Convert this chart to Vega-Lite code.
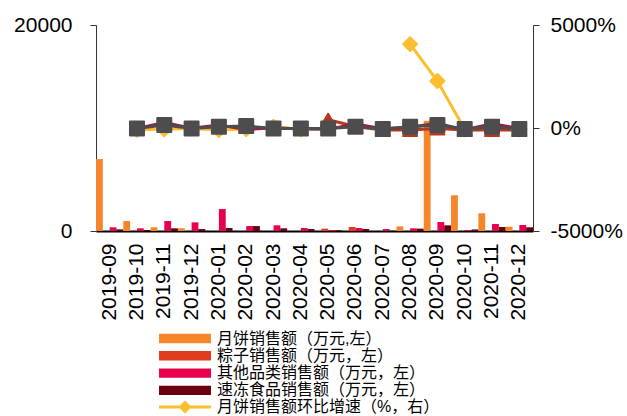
{
  "$schema": "https://vega.github.io/schema/vega-lite/v6.json",
  "autosize": "none",
  "width": 437,
  "height": 206,
  "padding": {"left": 96, "top": 25, "right": 94, "bottom": 185},
  "background": "white",
  "config": {
    "view": {"stroke": null},
    "font": "Liberation Sans",
    "axis": {"grid": false, "labelFont": "Liberation Sans", "labelFontSize": 21, "labelColor": "#000", "domainColor": "#333", "tickColor": "#333", "title": null},
    "legend": {"labelFont": "Liberation Sans, Noto Sans CJK SC", "labelFontSize": 16, "labelColor": "#000", "labelLimit": 400}
  },
  "datasets": {
    "bars": [
      {"month": "2019-09", "cat": "月饼销售额（万元,左）", "sales": 6980},
      {"month": "2019-09", "cat": "粽子销售额（万元，左）", "sales": 0},
      {"month": "2019-09", "cat": "其他品类销售额（万元，左）", "sales": 360},
      {"month": "2019-09", "cat": "速冻食品销售额（万元，左）", "sales": 160},
      {"month": "2019-10", "cat": "月饼销售额（万元,左）", "sales": 970},
      {"month": "2019-10", "cat": "粽子销售额（万元，左）", "sales": 0},
      {"month": "2019-10", "cat": "其他品类销售额（万元，左）", "sales": 260},
      {"month": "2019-10", "cat": "速冻食品销售额（万元，左）", "sales": 100},
      {"month": "2019-11", "cat": "月饼销售额（万元,左）", "sales": 360},
      {"month": "2019-11", "cat": "粽子销售额（万元，左）", "sales": 0},
      {"month": "2019-11", "cat": "其他品类销售额（万元，左）", "sales": 970},
      {"month": "2019-11", "cat": "速冻食品销售额（万元，左）", "sales": 260},
      {"month": "2019-12", "cat": "月饼销售额（万元,左）", "sales": 260},
      {"month": "2019-12", "cat": "粽子销售额（万元，左）", "sales": 0},
      {"month": "2019-12", "cat": "其他品类销售额（万元，左）", "sales": 840},
      {"month": "2019-12", "cat": "速冻食品销售额（万元，左）", "sales": 190},
      {"month": "2020-01", "cat": "月饼销售额（万元,左）", "sales": 0},
      {"month": "2020-01", "cat": "粽子销售额（万元，左）", "sales": 0},
      {"month": "2020-01", "cat": "其他品类销售额（万元，左）", "sales": 2130},
      {"month": "2020-01", "cat": "速冻食品销售额（万元，左）", "sales": 290},
      {"month": "2020-02", "cat": "月饼销售额（万元,左）", "sales": 0},
      {"month": "2020-02", "cat": "粽子销售额（万元，左）", "sales": 0},
      {"month": "2020-02", "cat": "其他品类销售额（万元，左）", "sales": 480},
      {"month": "2020-02", "cat": "速冻食品销售额（万元，左）", "sales": 480},
      {"month": "2020-03", "cat": "月饼销售额（万元,左）", "sales": 0},
      {"month": "2020-03", "cat": "粽子销售额（万元，左）", "sales": 0},
      {"month": "2020-03", "cat": "其他品类销售额（万元，左）", "sales": 550},
      {"month": "2020-03", "cat": "速冻食品销售额（万元，左）", "sales": 260},
      {"month": "2020-04", "cat": "月饼销售额（万元,左）", "sales": 0},
      {"month": "2020-04", "cat": "粽子销售额（万元，左）", "sales": 0},
      {"month": "2020-04", "cat": "其他品类销售额（万元，左）", "sales": 290},
      {"month": "2020-04", "cat": "速冻食品销售额（万元，左）", "sales": 190},
      {"month": "2020-05", "cat": "月饼销售额（万元,左）", "sales": 0},
      {"month": "2020-05", "cat": "粽子销售额（万元，左）", "sales": 230},
      {"month": "2020-05", "cat": "其他品类销售额（万元，左）", "sales": 100},
      {"month": "2020-05", "cat": "速冻食品销售额（万元，左）", "sales": 80},
      {"month": "2020-06", "cat": "月饼销售额（万元,左）", "sales": 0},
      {"month": "2020-06", "cat": "粽子销售额（万元，左）", "sales": 390},
      {"month": "2020-06", "cat": "其他品类销售额（万元，左）", "sales": 290},
      {"month": "2020-06", "cat": "速冻食品销售额（万元，左）", "sales": 190},
      {"month": "2020-07", "cat": "月饼销售额（万元,左）", "sales": 0},
      {"month": "2020-07", "cat": "粽子销售额（万元，左）", "sales": 0},
      {"month": "2020-07", "cat": "其他品类销售额（万元，左）", "sales": 190},
      {"month": "2020-07", "cat": "速冻食品销售额（万元，左）", "sales": 30},
      {"month": "2020-08", "cat": "月饼销售额（万元,左）", "sales": 450},
      {"month": "2020-08", "cat": "粽子销售额（万元，左）", "sales": 0},
      {"month": "2020-08", "cat": "其他品类销售额（万元，左）", "sales": 260},
      {"month": "2020-08", "cat": "速冻食品销售额（万元，左）", "sales": 230},
      {"month": "2020-09", "cat": "月饼销售额（万元,左）", "sales": 10700},
      {"month": "2020-09", "cat": "粽子销售额（万元，左）", "sales": 0},
      {"month": "2020-09", "cat": "其他品类销售额（万元，左）", "sales": 870},
      {"month": "2020-09", "cat": "速冻食品销售额（万元，左）", "sales": 550},
      {"month": "2020-10", "cat": "月饼销售额（万元,左）", "sales": 3470},
      {"month": "2020-10", "cat": "粽子销售额（万元，左）", "sales": 0},
      {"month": "2020-10", "cat": "其他品类销售额（万元，左）", "sales": 100},
      {"month": "2020-10", "cat": "速冻食品销售额（万元，左）", "sales": 150},
      {"month": "2020-11", "cat": "月饼销售额（万元,左）", "sales": 1720},
      {"month": "2020-11", "cat": "粽子销售额（万元，左）", "sales": 0},
      {"month": "2020-11", "cat": "其他品类销售额（万元，左）", "sales": 680},
      {"month": "2020-11", "cat": "速冻食品销售额（万元，左）", "sales": 390},
      {"month": "2020-12", "cat": "月饼销售额（万元,左）", "sales": 420},
      {"month": "2020-12", "cat": "粽子销售额（万元，左）", "sales": 0},
      {"month": "2020-12", "cat": "其他品类销售额（万元，左）", "sales": 580},
      {"month": "2020-12", "cat": "速冻食品销售额（万元，左）", "sales": 360}
    ],
    "lines": [
      {"month": "2019-10", "metric": "月饼销售额环比增速（%，右）", "growth": -90, "seg": 1},
      {"month": "2019-11", "metric": "月饼销售额环比增速（%，右）", "growth": -60, "seg": 1},
      {"month": "2019-12", "metric": "月饼销售额环比增速（%，右）", "growth": -30, "seg": 1},
      {"month": "2020-01", "metric": "月饼销售额环比增速（%，右）", "growth": -100, "seg": 1},
      {"month": "2020-02", "metric": "月饼销售额环比增速（%，右）", "growth": -50, "seg": 1},
      {"month": "2020-03", "metric": "月饼销售额环比增速（%，右）", "growth": 60, "seg": 1},
      {"month": "2020-04", "metric": "月饼销售额环比增速（%，右）", "growth": -60, "seg": 1},
      {"month": "2020-08", "metric": "月饼销售额环比增速（%，右）", "growth": 4070, "seg": 2},
      {"month": "2020-09", "metric": "月饼销售额环比增速（%，右）", "growth": 2280, "seg": 2},
      {"month": "2020-10", "metric": "月饼销售额环比增速（%，右）", "growth": -70, "seg": 2},
      {"month": "2020-11", "metric": "月饼销售额环比增速（%，右）", "growth": -50, "seg": 2},
      {"month": "2020-12", "metric": "月饼销售额环比增速（%，右）", "growth": -75, "seg": 2},
      {"month": "2020-05", "metric": "粽子销售额环比增速（%，右）", "growth": 400, "seg": 1},
      {"month": "2020-06", "metric": "粽子销售额环比增速（%，右）", "growth": 70, "seg": 1},
      {"month": "2020-07", "metric": "粽子销售额环比增速（%，右）", "growth": -100, "seg": 1},
      {"month": "2020-08", "metric": "粽子销售额环比增速（%，右）", "growth": -100, "seg": 1},
      {"month": "2020-09", "metric": "粽子销售额环比增速（%，右）", "growth": -20, "seg": 1},
      {"month": "2020-10", "metric": "粽子销售额环比增速（%，右）", "growth": -100, "seg": 1},
      {"month": "2020-11", "metric": "粽子销售额环比增速（%，右）", "growth": -100, "seg": 1},
      {"month": "2020-12", "metric": "粽子销售额环比增速（%，右）", "growth": -100, "seg": 1},
      {"month": "2019-10", "metric": "其他品类销售额环比增速（%，右）", "growth": -28, "seg": 1},
      {"month": "2019-11", "metric": "其他品类销售额环比增速（%，右）", "growth": 270, "seg": 1},
      {"month": "2019-12", "metric": "其他品类销售额环比增速（%，右）", "growth": -13, "seg": 1},
      {"month": "2020-01", "metric": "其他品类销售额环比增速（%，右）", "growth": 150, "seg": 1},
      {"month": "2020-02", "metric": "其他品类销售额环比增速（%，右）", "growth": -77, "seg": 1},
      {"month": "2020-03", "metric": "其他品类销售额环比增速（%，右）", "growth": 15, "seg": 1},
      {"month": "2020-04", "metric": "其他品类销售额环比增速（%，右）", "growth": -47, "seg": 1},
      {"month": "2020-05", "metric": "其他品类销售额环比增速（%，右）", "growth": -65, "seg": 1},
      {"month": "2020-06", "metric": "其他品类销售额环比增速（%，右）", "growth": 190, "seg": 1},
      {"month": "2020-07", "metric": "其他品类销售额环比增速（%，右）", "growth": -34, "seg": 1},
      {"month": "2020-08", "metric": "其他品类销售额环比增速（%，右）", "growth": 37, "seg": 1},
      {"month": "2020-09", "metric": "其他品类销售额环比增速（%，右）", "growth": 235, "seg": 1},
      {"month": "2020-10", "metric": "其他品类销售额环比增速（%，右）", "growth": -89, "seg": 1},
      {"month": "2020-11", "metric": "其他品类销售额环比增速（%，右）", "growth": 200, "seg": 1},
      {"month": "2020-12", "metric": "其他品类销售额环比增速（%，右）", "growth": -15, "seg": 1},
      {"month": "2019-10", "metric": "速冻食品销售额环比增速（%，右）", "growth": -20, "seg": 1},
      {"month": "2019-11", "metric": "速冻食品销售额环比增速（%，右）", "growth": 150, "seg": 1},
      {"month": "2019-12", "metric": "速冻食品销售额环比增速（%，右）", "growth": -20, "seg": 1},
      {"month": "2020-01", "metric": "速冻食品销售额环比增速（%，右）", "growth": 60, "seg": 1},
      {"month": "2020-02", "metric": "速冻食品销售额环比增速（%，右）", "growth": 100, "seg": 1},
      {"month": "2020-03", "metric": "速冻食品销售额环比增速（%，右）", "growth": -20, "seg": 1},
      {"month": "2020-04", "metric": "速冻食品销售额环比增速（%，右）", "growth": -20, "seg": 1},
      {"month": "2020-05", "metric": "速冻食品销售额环比增速（%，右）", "growth": -20, "seg": 1},
      {"month": "2020-06", "metric": "速冻食品销售额环比增速（%，右）", "growth": 60, "seg": 1},
      {"month": "2020-07", "metric": "速冻食品销售额环比增速（%，右）", "growth": -50, "seg": 1},
      {"month": "2020-08", "metric": "速冻食品销售额环比增速（%，右）", "growth": 60, "seg": 1},
      {"month": "2020-09", "metric": "速冻食品销售额环比增速（%，右）", "growth": 150, "seg": 1},
      {"month": "2020-10", "metric": "速冻食品销售额环比增速（%，右）", "growth": -50, "seg": 1},
      {"month": "2020-11", "metric": "速冻食品销售额环比增速（%，右）", "growth": 60, "seg": 1},
      {"month": "2020-12", "metric": "速冻食品销售额环比增速（%，右）", "growth": -50, "seg": 1}
    ]
  },
  "encoding": {
    "x": {"field": "month", "type": "ordinal", "scale": {"paddingInner": 0, "paddingOuter": 0},
      "axis": {"title": null, "labelAngle": -90, "ticks": false, "labelPadding": 12, "domainColor": "#000", "domainWidth": 2}}
  },
  "layer": [
    {
      "data": {"name": "bars"},
      "mark": {"type": "bar"},
      "encoding": {
        "xOffset": {"field": "cat", "type": "nominal", "scale": {"domain": ["月饼销售额（万元,左）", "粽子销售额（万元，左）", "其他品类销售额（万元，左）", "速冻食品销售额（万元，左）"], "paddingInner": 0, "paddingOuter": 0}},
        "y": {"field": "sales", "type": "quantitative", "scale": {"domain": [0, 20000], "nice": false},
          "axis": {"orient": "left", "values": [0, 20000], "format": "d", "title": null, "tickSize": 6, "labelPadding": 18}},
        "fill": {"field": "cat", "type": "nominal", "sort": null,
          "scale": {"domain": ["月饼销售额（万元,左）", "粽子销售额（万元，左）", "其他品类销售额（万元，左）", "速冻食品销售额（万元，左）"], "range": ["#F5872A", "#E03C1F", "#E8004E", "#6A000F"]},
          "legend": {"title": null, "orient": "none", "legendX": 81, "legendY": 305.5, "direction": "vertical", "padding": 0,
            "symbolType": "M-5,-0.9H5V0.9H-5Z", "symbolSize": 108, "symbolStrokeWidth": 0, "labelOffset": 24, "rowPadding": 1.3}}
      }
    },
    {
      "data": {"name": "lines"},
      "encoding": {
        "y": {"field": "growth", "type": "quantitative", "scale": {"domain": [-5000, 5000], "nice": false},
          "axis": {"orient": "right", "values": [-5000, 0, 5000], "title": null, "tickSize": 6, "labelPadding": 11, "labelExpr": "datum.value + '%'"}}
      },
      "layer": [
        {
          "mark": {"type": "line", "strokeWidth": 3},
          "encoding": {
            "stroke": {"field": "metric", "type": "nominal", "sort": null,
              "scale": {"domain": ["月饼销售额环比增速（%，右）", "粽子销售额环比增速（%，右）", "其他品类销售额环比增速（%，右）", "速冻食品销售额环比增速（%，右）"], "range": ["#FBBE2E", "#B5391F", "#A01B3C", "#4D4D4F"]},
              "legend": {"title": null, "orient": "none", "legendX": 81, "legendY": 374, "direction": "vertical", "padding": 0,
                "values": ["月饼销售额环比增速（%，右）"],
                "symbolType": "M-5,0H5M0,-0.85L0.85,0L0,0.85L-0.85,0Z", "symbolSize": 108, "symbolStrokeWidth": 3, "labelOffset": 24, "rowPadding": 1.3,
                "encode": {"symbols": {"update": {"fill": {"value": "#FBBE2E"}, "strokeWidth": {"value": 3}}}}}},
            "detail": {"field": "seg", "type": "nominal"}
          }
        },
        {
          "transform": [{"filter": "datum.metric != '其他品类销售额环比增速（%，右）'"}],
          "mark": {"type": "point", "filled": true, "size": 196, "strokeWidth": 2, "strokeJoin": "round", "opacity": 1},
          "encoding": {
            "shape": {"field": "metric", "type": "nominal", "legend": null,
              "scale": {"domain": ["月饼销售额环比增速（%，右）", "粽子销售额环比增速（%，右）", "速冻食品销售额环比增速（%，右）"], "range": ["diamond", "triangle-up", "square"]}},
            "color": {"field": "metric", "type": "nominal", "legend": null,
              "scale": {"domain": ["月饼销售额环比增速（%，右）", "粽子销售额环比增速（%，右）", "速冻食品销售额环比增速（%，右）"], "range": ["#FBBE2E", "#B5391F", "#4D4D4F"]}},
            "stroke": {"field": "metric", "type": "nominal"}
          }
        }
      ]
    }
  ],
  "resolve": {"scale": {"y": "independent"}}
}
